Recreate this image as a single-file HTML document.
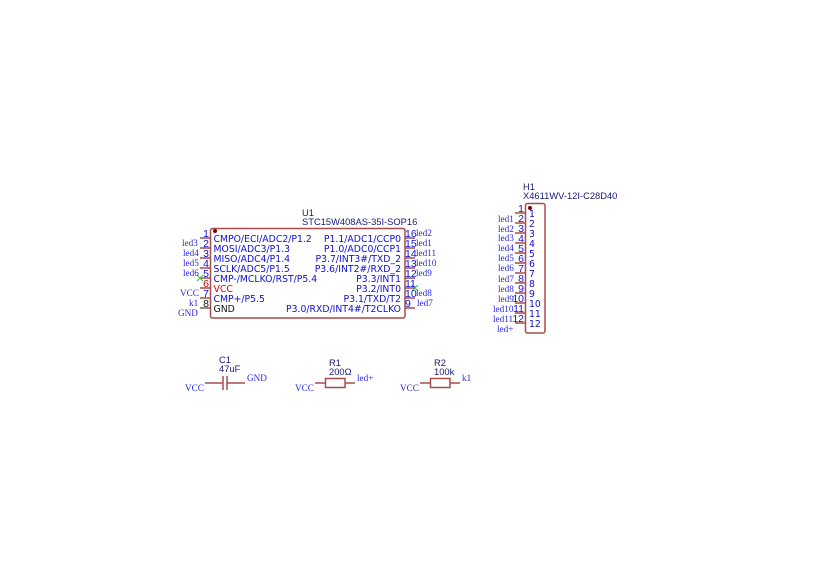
<!DOCTYPE html>
<html><head><meta charset="utf-8"><style>
html,body{margin:0;padding:0;background:#fff;width:826px;height:583px;overflow:hidden}
svg{display:block}
.t{font-family:"DejaVu Sans",sans-serif;font-size:9.3px;fill:#1010d0}
.b{font-family:"Liberation Sans",sans-serif;font-size:9.35px;fill:#18187a}
.n{font-family:"Liberation Sans",sans-serif;font-size:10.5px;fill:#1010d8}
.l{font-family:"Liberation Serif",serif;font-size:9.2px;fill:#2828d8}
.p{stroke:#a84c4c;stroke-width:1.5;fill:none}
.pg{stroke:#666;stroke-width:1.5;fill:none}
.x{stroke:#32c832;stroke-width:1;fill:none}
</style></head><body>
<svg width="826" height="583" viewBox="0 0 826 583" xmlns="http://www.w3.org/2000/svg">
<rect x="210.500" y="228.500" width="194.500" height="89.500" rx="2" class="p"/>
<circle cx="215" cy="231" r="2" fill="#800000"/>
<path class="p" d="M200 238h10M200 248h10M200 258h10M200 268h10M200 278h10M200 288h10M200 298h10M415 238h-10M415 248h-10M415 258h-10M415 268h-10M415 278h-10M415 288h-10M415 298h-10M415 308h-10"/>
<path class="pg" d="M200 308h10"/>
<path class="x" d="M197 275l6 6M203 275l-6 6M412 285l6 6M418 285l-6 6"/>
<text class="b" x="302" y="216">U1</text>
<text class="b" x="302" y="225">STC15W408AS-35I-SOP16</text>
<g class="n" text-anchor="end">
<text x="209" y="237">1</text><text x="209" y="247">2</text><text x="209" y="257">3</text><text x="209" y="267">4</text><text x="209" y="277">5</text><text x="209" y="287" style="fill:#c80000">6</text><text x="209" y="297">7</text><text x="209" y="307" style="fill:#111">8</text>
</g>
<g class="n">
<text x="405" y="237">16</text><text x="405" y="247">15</text><text x="405" y="257">14</text><text x="405" y="267">13</text><text x="405" y="277">12</text><text x="405" y="287">11</text><text x="405" y="297">10</text><text x="405" y="307">9</text>
</g>
<g class="t">
<text x="213.500" y="242">CMPO/ECI/ADC2/P1.2</text>
<text x="213.500" y="252">MOSI/ADC3/P1.3</text>
<text x="213.500" y="262">MISO/ADC4/P1.4</text>
<text x="213.500" y="272">SCLK/ADC5/P1.5</text>
<text x="213.500" y="282">CMP-/MCLKO/RST/P5.4</text>
<text x="213.500" y="292" style="fill:#dc0000">VCC</text>
<text x="213.500" y="302">CMP+/P5.5</text>
<text x="213.500" y="312" style="fill:#111">GND</text>
</g>
<g class="t" text-anchor="end">
<text x="401" y="242">P1.1/ADC1/CCP0</text>
<text x="401" y="252">P1.0/ADC0/CCP1</text>
<text x="401" y="262">P3.7/INT3#/TXD_2</text>
<text x="401" y="272">P3.6/INT2#/RXD_2</text>
<text x="401" y="282">P3.3/INT1</text>
<text x="401" y="292">P3.2/INT0</text>
<text x="401" y="302">P3.1/TXD/T2</text>
<text x="401" y="312">P3.0/RXD/INT4#/T2CLKO</text>
</g>
<g class="l">
<text x="182" y="246">led3</text><text x="183" y="256">led4</text><text x="183" y="266">led5</text><text x="183" y="276">led6</text>
<text x="180" y="296">VCC</text><text x="189" y="306">k1</text><text x="178" y="316">GND</text>
<text x="416" y="236">led2</text><text x="416" y="246">led1</text><text x="416" y="256">led11</text><text x="416" y="266">led10</text><text x="416" y="276">led9</text><text x="416" y="296">led8</text><text x="417" y="306">led7</text>
</g>

<rect x="525.500" y="203.500" width="19.500" height="129.500" rx="2" class="p"/>
<circle cx="530" cy="208" r="2" fill="#800000"/>
<path class="p" d="M515 213h10M515 223h10M515 233h10M515 243h10M515 253h10M515 263h10M515 273h10M515 283h10M515 293h10M515 303h10M515 313h10M515 323h10"/>
<text class="b" x="523" y="190">H1</text>
<text class="b" x="523" y="199">X4611WV-12I-C28D40</text>
<g class="n" text-anchor="end">
<text x="524" y="212">1</text><text x="524" y="222">2</text><text x="524" y="232">3</text><text x="524" y="242">4</text><text x="524" y="252">5</text><text x="524" y="262">6</text><text x="524" y="272">7</text><text x="524" y="282">8</text><text x="524" y="292">9</text><text x="524" y="302">10</text><text x="524" y="312">11</text><text x="524" y="322">12</text>
</g>
<g class="t">
<text x="529" y="217">1</text><text x="529" y="227">2</text><text x="529" y="237">3</text><text x="529" y="247">4</text><text x="529" y="257">5</text><text x="529" y="267">6</text><text x="529" y="277">7</text><text x="529" y="287">8</text><text x="529" y="297">9</text><text x="529" y="307">10</text><text x="529" y="317">11</text><text x="529" y="327">12</text>
</g>
<g class="l">
<text x="498" y="222">led1</text><text x="498" y="232">led2</text><text x="498" y="241">led3</text><text x="498" y="251">led4</text><text x="498" y="261">led5</text><text x="498" y="271">led6</text><text x="498" y="282">led7</text><text x="498" y="292">led8</text><text x="498" y="302">led9</text><text x="493" y="312">led10</text><text x="493" y="322">led11</text><text x="497" y="332">led+</text>
</g>

<path class="p" d="M205 383h18M223 376v14M227 376v14M227 383h18"/>
<text class="b" x="219" y="363">C1</text><text class="b" x="219" y="372">47uF</text>
<text class="l" x="185" y="391">VCC</text><text class="l" x="247" y="381">GND</text>

<path class="p" d="M315 383h10M345 383h10"/><rect x="325.500" y="378.500" width="19.500" height="9" class="p"/>
<text class="b" x="329" y="366">R1</text><text class="b" x="329" y="375">200Ω</text>
<text class="l" x="295" y="391">VCC</text><text class="l" x="357" y="381">led+</text>

<path class="p" d="M420 383h10M450 383h10"/><rect x="430.500" y="378.500" width="19.500" height="9" class="p"/>
<text class="b" x="434" y="366">R2</text><text class="b" x="434" y="375">100k</text>
<text class="l" x="400" y="391">VCC</text><text class="l" x="462" y="381">k1</text>
</svg>
</body></html>
